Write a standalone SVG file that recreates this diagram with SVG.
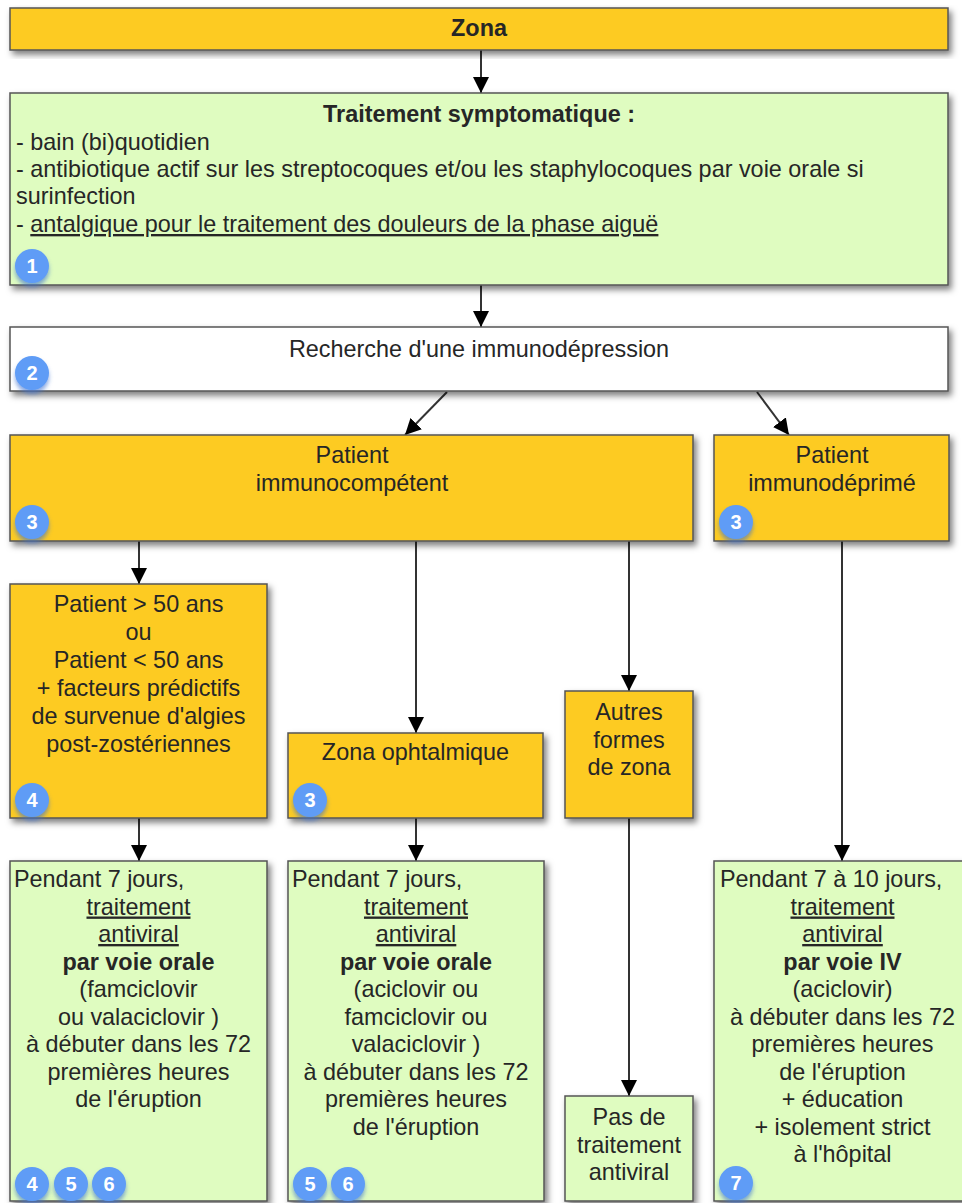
<svg xmlns="http://www.w3.org/2000/svg" width="962" height="1203" viewBox="0 0 962 1203">
<style>
  text { font-family: "Liberation Sans", Arial, sans-serif; font-size: 23.4px; fill: #262626; }
  .c { text-anchor: middle; }
  .b { font-weight: bold; }
  .u { text-decoration: underline; }
  .box { stroke: #555; stroke-width: 1.5; filter: url(#sh); }
  .y { fill: #FDCB24; }
  .g { fill: #DFFCC0; }
  .w { fill: #FFFFFF; }
  .edge { stroke: #333; stroke-width: 2; fill: none; marker-end: url(#arr); }
  .badge circle { fill: #5E9CF6; filter: url(#bsh); }
  .badge text { fill: #fff; font-size: 20px; font-weight: bold; text-anchor: middle; }
</style>
<defs>
  <filter id="sh" x="-5%" y="-5%" width="115%" height="125%">
    <feDropShadow dx="3" dy="4" stdDeviation="3" flood-color="#000" flood-opacity="0.5"/>
  </filter>
  <filter id="bsh" x="-30%" y="-30%" width="160%" height="170%">
    <feDropShadow dx="0" dy="4" stdDeviation="2" flood-color="#3A70D0" flood-opacity="0.6"/>
  </filter>
  <marker id="arr" viewBox="0 0 10 10" refX="10" refY="5" markerWidth="16" markerHeight="16" markerUnits="userSpaceOnUse" orient="auto">
    <path d="M0,0 L10,5 L0,10 z" fill="#000"/>
  </marker>
</defs>

<g id="connectors">
  <line class="edge" x1="481" y1="50" x2="481" y2="93"/>
  <line class="edge" x1="481" y1="285" x2="481" y2="327"/>
  <line class="edge" x1="447" y1="392" x2="405" y2="435"/>
  <line class="edge" x1="757" y1="392" x2="789" y2="435"/>
  <line class="edge" x1="139" y1="541" x2="139" y2="584"/>
  <line class="edge" x1="416" y1="541" x2="416" y2="733"/>
  <line class="edge" x1="629" y1="541" x2="629" y2="691"/>
  <line class="edge" x1="842" y1="541" x2="842" y2="861"/>
  <line class="edge" x1="139" y1="818" x2="139" y2="861"/>
  <line class="edge" x1="416" y1="818" x2="416" y2="861"/>
  <line class="edge" x1="629" y1="818" x2="629" y2="1096"/>
</g>

<g id="zona">
  <rect class="box y" x="10" y="8" width="938" height="42"/>
  <text class="c b" x="479" y="36">Zona</text>
</g>

<g id="traitement-symptomatique">
  <rect class="box g" x="10" y="93" width="938" height="192"/>
  <text class="c b" x="479" y="122">Traitement symptomatique :</text>
  <text x="16" y="150">- bain (bi)quotidien</text>
  <text x="16" y="177">- antibiotique actif sur les streptocoques et/ou les staphylocoques par voie orale si</text>
  <text x="16" y="204">surinfection</text>
  <text x="16" y="232">- <tspan class="u">antalgique pour le traitement des douleurs de la phase aiguë</tspan></text>
  <g class="badge"><circle cx="32" cy="266" r="17"/><text x="32" y="273">1</text></g>
</g>

<g id="recherche">
  <rect class="box w" x="10" y="327" width="938" height="64"/>
  <text class="c" x="479" y="357">Recherche d'une immunodépression</text>
  <g class="badge"><circle cx="32" cy="373" r="17"/><text x="32" y="380">2</text></g>
</g>

<g id="immunocompetent">
  <rect class="box y" x="10" y="435" width="683" height="106"/>
  <text class="c" x="352" y="463">Patient</text>
  <text class="c" x="352" y="491">immunocompétent</text>
  <g class="badge"><circle cx="32" cy="522" r="17"/><text x="32" y="529">3</text></g>
</g>

<g id="immunodeprime">
  <rect class="box y" x="714" y="435" width="235" height="106"/>
  <text class="c" x="832" y="463">Patient</text>
  <text class="c" x="832" y="491">immunodéprimé</text>
  <g class="badge"><circle cx="736" cy="522" r="17"/><text x="736" y="529">3</text></g>
</g>

<g id="plus50">
  <rect class="box y" x="10" y="584" width="257" height="234"/>
  <text class="c" x="138.5" y="612">Patient &gt; 50 ans</text>
  <text class="c" x="138.5" y="640">ou</text>
  <text class="c" x="138.5" y="668">Patient &lt; 50 ans</text>
  <text class="c" x="138.5" y="696">+ facteurs prédictifs</text>
  <text class="c" x="138.5" y="724">de survenue d'algies</text>
  <text class="c" x="138.5" y="752">post-zostériennes</text>
  <g class="badge"><circle cx="32" cy="800" r="17"/><text x="32" y="807">4</text></g>
</g>

<g id="ophtalmique">
  <rect class="box y" x="288" y="733" width="255" height="85"/>
  <text class="c" x="415.5" y="760">Zona ophtalmique</text>
  <g class="badge"><circle cx="310" cy="800" r="17"/><text x="310" y="807">3</text></g>
</g>

<g id="autres">
  <rect class="box y" x="565" y="691" width="128" height="127"/>
  <text class="c" x="629" y="720">Autres</text>
  <text class="c" x="629" y="747.5">formes</text>
  <text class="c" x="629" y="775">de zona</text>
</g>

<g id="traitement-a">
  <rect class="box g" x="10" y="861" width="257" height="340"/>
  <text x="14" y="887">Pendant 7 jours,</text>
  <text class="c u" x="138.5" y="914.5">traitement</text>
  <text class="c u" x="138.5" y="942">antiviral</text>
  <text class="c b" x="138.5" y="969.5">par voie orale</text>
  <text class="c" x="138.5" y="997">(famciclovir</text>
  <text class="c" x="138.5" y="1024.5">ou valaciclovir )</text>
  <text class="c" x="138.5" y="1052">à débuter dans les 72</text>
  <text class="c" x="138.5" y="1079.5">premières heures</text>
  <text class="c" x="138.5" y="1107">de l'éruption</text>
  <g class="badge"><circle cx="32" cy="1184" r="17"/><text x="32" y="1191">4</text></g>
  <g class="badge"><circle cx="71" cy="1184" r="17"/><text x="71" y="1191">5</text></g>
  <g class="badge"><circle cx="109" cy="1184" r="17"/><text x="109" y="1191">6</text></g>
</g>

<g id="traitement-b">
  <rect class="box g" x="288" y="861" width="256" height="340"/>
  <text x="292" y="887">Pendant 7 jours,</text>
  <text class="c u" x="416" y="914.5">traitement</text>
  <text class="c u" x="416" y="942">antiviral</text>
  <text class="c b" x="416" y="969.5">par voie orale</text>
  <text class="c" x="416" y="997">(aciclovir ou</text>
  <text class="c" x="416" y="1024.5">famciclovir ou</text>
  <text class="c" x="416" y="1052">valaciclovir )</text>
  <text class="c" x="416" y="1079.5">à débuter dans les 72</text>
  <text class="c" x="416" y="1107">premières heures</text>
  <text class="c" x="416" y="1134.5">de l'éruption</text>
  <g class="badge"><circle cx="310" cy="1184" r="17"/><text x="310" y="1191">5</text></g>
  <g class="badge"><circle cx="348" cy="1184" r="17"/><text x="348" y="1191">6</text></g>
</g>

<g id="pas-de-traitement">
  <rect class="box g" x="565" y="1096" width="128" height="105"/>
  <text class="c" x="629" y="1125">Pas de</text>
  <text class="c" x="629" y="1152.5">traitement</text>
  <text class="c" x="629" y="1180">antiviral</text>
</g>

<g id="traitement-d">
  <rect class="box g" x="714" y="861" width="257" height="340"/>
  <text x="720" y="887">Pendant 7 à 10 jours,</text>
  <text class="c u" x="842.5" y="914.5">traitement</text>
  <text class="c u" x="842.5" y="942">antiviral</text>
  <text class="c b" x="842.5" y="969.5">par voie IV</text>
  <text class="c" x="842.5" y="997">(aciclovir)</text>
  <text class="c" x="842.5" y="1024.5">à débuter dans les 72</text>
  <text class="c" x="842.5" y="1052">premières heures</text>
  <text class="c" x="842.5" y="1079.5">de l'éruption</text>
  <text class="c" x="842.5" y="1107">+ éducation</text>
  <text class="c" x="842.5" y="1134.5">+ isolement strict</text>
  <text class="c" x="842.5" y="1162">à l'hôpital</text>
  <g class="badge"><circle cx="736" cy="1183" r="17"/><text x="736" y="1190">7</text></g>
</g>
</svg>
